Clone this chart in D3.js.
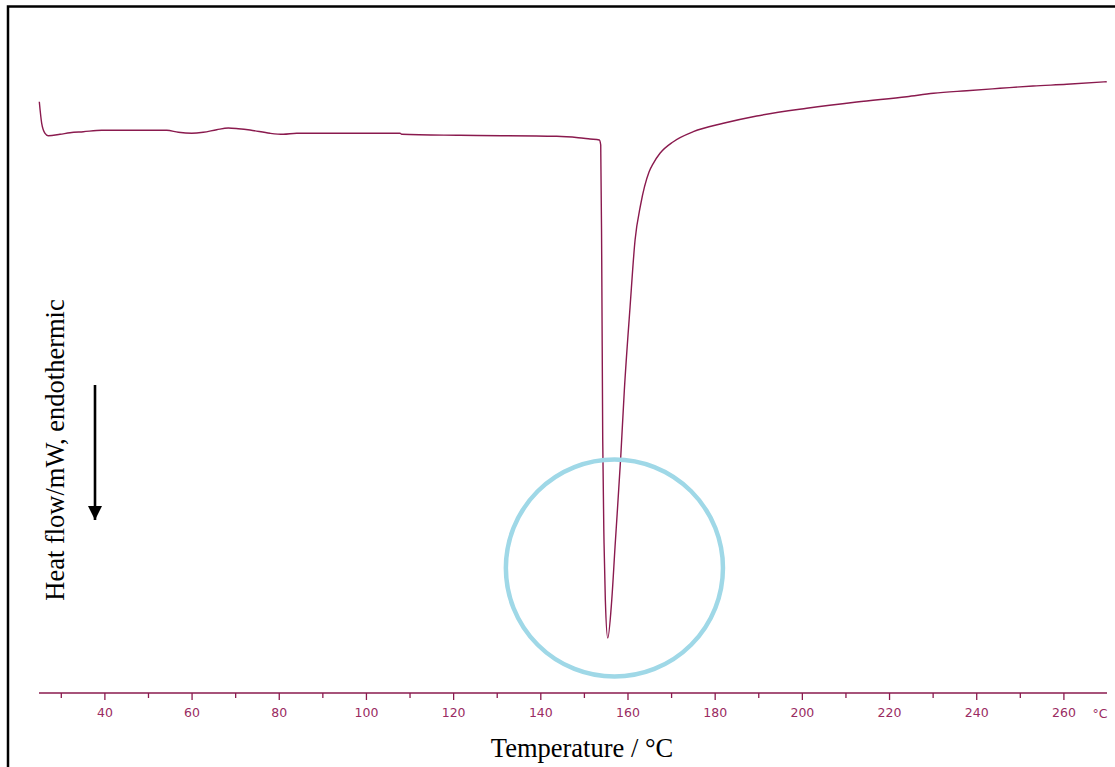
<!DOCTYPE html>
<html>
<head>
<meta charset="utf-8">
<script src="https://cdn.jsdelivr.net/npm/d3@7"></script>
<style>
  html, body { margin: 0; padding: 0; background: #fff; }
  svg { display: block; }
</style>
</head>
<body>
<svg id="chart" width="1115" height="767"></svg>
<script>
// ---- data ----
const temperature = [25.07, 25.62, 26.38, 27.13, 29.82, 32.11, 35.16, 39.38, 54.30, 56.96, 60.03, 62.69,
  65.77, 68.43, 70.72, 73.41, 77.99, 81.04, 84.12, 107.82, 108.21, 121.58, 143.77, 148.72, 151.41,
  153.54, 153.86, 154.09, 154.32, 154.62, 154.92, 155.47, 156.39, 157.14, 158.45, 159.28, 160.59,
  161.74, 163.0, 164.94, 165.93, 167.46, 170.52, 175.10, 181.99, 189.65, 201.12, 212.59, 224.06,
  230.2, 237.82, 245.46, 253.04, 260.77, 269.94];
const heatFlow = [0.626, 0.194, -0.006, -0.054, -0.026, 0.006, 0.026, 0.054, 0.054, 0.014, -0.006, 0.014,
  0.066, 0.100, 0.086, 0.060, -0.006, -0.026, -0.006, -0.006, -0.026, -0.046, -0.066, -0.094, -0.120,
  -0.140, -0.240, -2.54, -6.14, -8.20, -9.34, -10.10, -9.34, -8.28, -6.48, -5.14, -3.48,
  -2.14, -1.44, -0.78, -0.606, -0.406, -0.174, 0.026, 0.194, 0.340, 0.494, 0.620, 0.726,
  0.794, 0.846, 0.894, 0.940, 0.974, 1.026];
const majorTicks = [40, 60, 80, 100, 120, 140, 160, 180, 200, 220, 240, 260];
const minorTicks = [30, 50, 70, 90, 110, 130, 150, 170, 190, 210, 230, 250];
const xTitle = "Temperature / °C";
const yTitle = "Heat flow/mW, endothermic";
const unitLabel = "°C";
const highlight = { t: 157.0, v: -8.7, rT: 24.9 }; // circled melting peak

// ---- layout ----
const svg = d3.select("#chart");
const maroon = "#8a1a4e";
const tickColor = "#9a2b62";
const tickFont = "12.5px";

const x = d3.scaleLinear().domain([25, 270]).range([39, 1107]);
const y = d3.scaleLinear().domain([-11.2, 1.2]).range([693, 73]);

// frame
svg.append("rect")
  .attr("x", 8).attr("y", 6.5).attr("width", 1130).attr("height", 800)
  .attr("fill", "none").attr("stroke", "#000").attr("stroke-width", 2.5);

// x axis
const axisG = svg.append("g").attr("transform", "translate(0,693)");
axisG.call(d3.axisBottom(x).tickValues(majorTicks).tickSize(7).tickPadding(8)
  .tickFormat(d3.format("d")));
axisG.select(".domain").attr("stroke", maroon).attr("stroke-width", 1.3).attr("d", `M${x(25)},0H${x(270)}`);
axisG.selectAll(".tick line").attr("stroke", maroon).attr("stroke-width", 1.3);
axisG.selectAll(".tick text").attr("fill", tickColor)
  .style("font-family", "'DejaVu Sans', sans-serif").style("font-size", tickFont);

const minorG = svg.append("g").attr("transform", "translate(0,693)");
minorG.call(d3.axisBottom(x).tickValues(minorTicks).tickSize(5).tickFormat(""));
minorG.select(".domain").remove();
minorG.selectAll(".tick line").attr("stroke", maroon).attr("stroke-width", 1.3);

svg.append("text").attr("x", 1100).attr("y", 717.5)
  .attr("text-anchor", "middle").attr("fill", tickColor)
  .style("font-family", "'DejaVu Sans', sans-serif").style("font-size", tickFont)
  .text(unitLabel);

// axis titles
svg.append("text").attr("x", 582).attr("y", 757)
  .attr("text-anchor", "middle").attr("fill", "#000")
  .style("font-family", "'Liberation Serif', 'Times New Roman', serif").style("font-size", "26.5px")
  .text(xTitle);

svg.append("text")
  .attr("transform", "translate(64,450) rotate(-90)")
  .attr("text-anchor", "middle").attr("fill", "#000")
  .style("font-family", "'Liberation Serif', 'Times New Roman', serif").style("font-size", "26.5px")
  .text(yTitle);

// endothermic arrow
svg.append("defs").append("marker")
  .attr("id", "ah").attr("viewBox", "0 0 10 10").attr("refX", 10).attr("refY", 5)
  .attr("markerUnits", "userSpaceOnUse").attr("markerWidth", 14).attr("markerHeight", 17)
  .attr("orient", "auto")
  .append("path").attr("d", "M0,0L10,5L0,10Z").attr("fill", "#000");
svg.append("line")
  .attr("x1", 95).attr("y1", 385).attr("x2", 95).attr("y2", 520)
  .attr("stroke", "#000").attr("stroke-width", 2.6).attr("marker-end", "url(#ah)");

// curve
const pts = temperature.map((t, i) => [t, heatFlow[i]]);
const line = d3.line().x(d => x(d[0])).y(d => y(d[1])).curve(d3.curveMonotoneX);
svg.append("path").datum(pts)
  .attr("d", line).attr("fill", "none")
  .attr("stroke", maroon).attr("stroke-width", 1.4);

// highlight circle
svg.append("circle")
  .attr("cx", x(highlight.t)).attr("cy", y(highlight.v))
  .attr("r", x(highlight.t + highlight.rT) - x(highlight.t))
  .attr("fill", "none").attr("stroke", "#9fd8e7").attr("stroke-width", 4.5);
</script>
</body>
</html>
